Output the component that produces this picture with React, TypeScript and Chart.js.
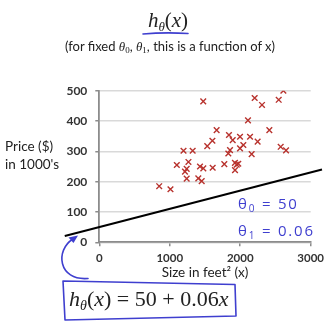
import React, { useEffect, useRef } from "react";
import { Chart, registerables } from "chart.js";

Chart.register(...registerables);

// House sizes (feet²) and prices ($1000s)
const sizes = [
  850, 1010, 1100, 1195, 1325, 1265, 1240, 1216, 1240, 1405, 1453, 1429, 1476,
  1609, 1475, 1532, 1605, 1665, 1774, 1831, 1855, 1840, 1893, 1925, 1950, 1926,
  1972, 1997, 2044, 1997, 2110, 2139, 2162, 2247, 2205, 2309, 2413, 2546, 2612,
  2574, 2650,
];
const prices = [
  185, 175, 255, 302, 302, 265, 242, 233, 210, 211, 202, 250, 244,
  246, 465, 317, 335, 370, 258, 293, 304, 354, 337, 262, 256, 238,
  259, 310, 321, 348, 402, 348, 291, 332, 476, 453, 370, 470, 500,
  315, 303,
];

// Hypothesis line h(x) = 50 + 0.06x, end points
const lineXs = [-490, 3160];
const lineYs = [21, 240];

const xTicks = [0, 1000, 2000, 3000];
const yTicks = [0, 100, 200, 300, 400, 500];

const BLUE = "#3f3fcf";
const RED = "#b8332e";
const AXIS = "#8c8c8c";

const decorPlugin = {
  id: "decor",
  afterDraw(chart: any) {
    const ctx = chart.ctx as CanvasRenderingContext2D;
    ctx.save();
    ctx.strokeStyle = BLUE;
    ctx.fillStyle = BLUE;
    ctx.lineWidth = 1.6;
    ctx.lineCap = "round";
    ctx.lineJoin = "round";
    // underline under title
    ctx.beginPath();
    ctx.moveTo(143, 34);
    ctx.quadraticCurveTo(165, 32, 188, 33.5);
    ctx.stroke();
    // box around formula
    ctx.beginPath();
    ctx.moveTo(63, 281);
    ctx.lineTo(235, 284.5);
    ctx.lineTo(236, 316);
    ctx.lineTo(65, 320);
    ctx.closePath();
    ctx.stroke();
    // arrow
    ctx.beginPath();
    ctx.moveTo(88, 278.5);
    ctx.bezierCurveTo(58, 281, 55, 250, 73, 239);
    ctx.stroke();
    ctx.beginPath();
    ctx.moveTo(78, 235.5);
    ctx.lineTo(68.5, 237.5);
    ctx.lineTo(73.5, 243);
    ctx.closePath();
    ctx.fill();
    ctx.restore();
  },
};

export default function App() {
  const ref = useRef<HTMLCanvasElement | null>(null);

  useEffect(() => {
    if (!ref.current) return;
    const chart = new Chart(ref.current, {
      type: "scatter",
      data: {
        datasets: [
          {
            type: "scatter",
            data: sizes.map((x, i) => ({ x, y: prices[i] })),
            pointStyle: "crossRot",
            pointRadius: 4,
            borderColor: RED,
            backgroundColor: RED,
            borderWidth: 1.4,
          } as any,
          {
            type: "line",
            data: lineXs.map((x, i) => ({ x, y: lineYs[i] })),
            borderColor: "#000",
            borderWidth: 2,
            pointRadius: 0,
            fill: false,
            clip: false,
          } as any,
        ],
      },
      options: {
        animation: false,
        responsive: false,
        devicePixelRatio: 1,
        layout: { padding: { left: 59.3, right: 19.3, top: 90.7, bottom: 42.7 } },
        plugins: { legend: { display: false }, tooltip: { enabled: false } },
        scales: {
          x: {
            type: "linear",
            min: 0,
            max: 3000,
            afterBuildTicks: (s: any) => {
              s.ticks = xTicks.map((v) => ({ value: v }));
            },
            afterFit: (s: any) => {
              s.height = 44;
            },
            ticks: {
              padding: 5,
              color: "#333",
              font: { family: "Lato", size: 11.5, weight: "bold" },
              maxRotation: 0,
              autoSkip: false,
              callback: (v: any) => String(v),
            },
            grid: {
              drawOnChartArea: false,
              drawTicks: true,
              tickLength: 4,
              color: AXIS,
              lineWidth: 1.5,
            },
            border: { color: AXIS, width: 1.8 },
            title: {
              display: true,
              text: "Size in feet² (x)",
              color: "#222",
              font: { family: "Lato", size: 13.5 },
              padding: { top: 0, bottom: 6 },
            },
          },
          y: {
            type: "linear",
            min: 0,
            max: 500,
            afterBuildTicks: (s: any) => {
              s.ticks = yTicks.map((v) => ({ value: v }));
            },
            afterFit: (s: any) => {
              s.width = 40;
            },
            ticks: {
              padding: 8,
              color: "#333",
              font: { family: "Lato", size: 12, weight: "bold" },
              callback: (v: any) => String(v),
            },
            grid: {
              color: "#d9d9d9",
              lineWidth: 1.5,
              tickLength: 4,
              tickColor: AXIS,
            },
            border: { color: AXIS, width: 1.8 },
          },
        },
      },
      plugins: [decorPlugin],
    });
    return () => chart.destroy();
  }, []);

  const serif = "'Liberation Serif', 'DejaVu Serif', serif";
  return (
    <div
      style={{
        position: "absolute",
        left: 0,
        top: 0,
        width: 330,
        height: 329,
        background: "#fff",
        overflow: "hidden",
      }}
    >
      <canvas ref={ref} width={330} height={329} style={{ display: "block" }} />
      {/* title */}
      <div
        style={{
          position: "absolute",
          top: 8,
          left: 0,
          width: 336,
          textAlign: "center",
          fontFamily: serif,
          fontSize: 21,
          lineHeight: "24px",
          color: "#222",
        }}
      >
        <i>h</i>
        <span style={{ fontStyle: "italic", fontSize: 13, position: "relative", top: 4 }}>θ</span>
        (<i>x</i>)
      </div>
      {/* subtitle */}
      <div
        style={{
          position: "absolute",
          top: 38,
          left: 0,
          width: 340,
          textAlign: "center",
          fontFamily: "Lato, sans-serif",
          fontSize: 13,
          lineHeight: "16px",
          color: "#222",
        }}
      >
        (for fixed <i style={{ fontFamily: serif }}>θ</i>
        <span style={{ fontFamily: serif, fontSize: 9, position: "relative", top: 2 }}>0</span>,{" "}
        <i style={{ fontFamily: serif }}>θ</i>
        <span style={{ fontFamily: serif, fontSize: 9, position: "relative", top: 2 }}>1</span>, this is a
        function of x)
      </div>
      {/* y-axis label */}
      <div
        style={{
          position: "absolute",
          top: 137,
          left: 5,
          fontFamily: "Lato, sans-serif",
          fontSize: 13.5,
          lineHeight: "18px",
          color: "#222",
          whiteSpace: "nowrap",
        }}
      >
        Price ($)
        <br />
        in 1000's
      </div>
      {/* handwritten parameters */}
      <div
        style={{
          position: "absolute",
          top: 191,
          left: 238,
          fontFamily: "'Open Sans', sans-serif",
          fontSize: 15,
          lineHeight: "25px",
          letterSpacing: 1.8,
          color: BLUE,
          whiteSpace: "nowrap",
        }}
      >
        <div>
          θ<span style={{ fontSize: 10, position: "relative", top: 3 }}>0</span> = 50
        </div>
        <div>
          θ<span style={{ fontSize: 10, position: "relative", top: 3 }}>1</span> = 0.06
        </div>
      </div>
      {/* boxed formula */}
      <div
        style={{
          position: "absolute",
          top: 286,
          left: 69,
          fontFamily: serif,
          fontSize: 22,
          lineHeight: "26px",
          color: "#222",
          whiteSpace: "nowrap",
        }}
      >
        <i>h</i>
        <span style={{ fontStyle: "italic", fontSize: 14, position: "relative", top: 4 }}>θ</span>
        (<i>x</i>) = 50 + 0.06<i>x</i>
      </div>
    </div>
  );
}
